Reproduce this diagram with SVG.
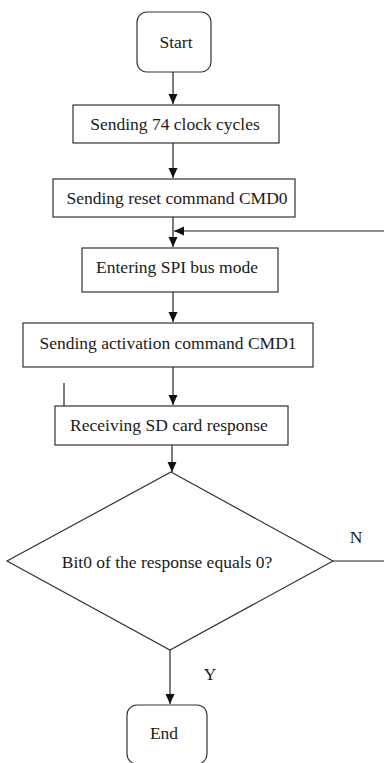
<svg xmlns="http://www.w3.org/2000/svg" width="384" height="763" viewBox="0 0 384 763">
  <style>
    .box { fill: #ffffff; stroke: #333333; stroke-width: 1.2; }
    .lbl { font-size: 17.5px; fill: #1a1a1a; text-anchor: middle; }
    .edge { fill: none; stroke: #222222; stroke-width: 1.2; }
  </style>
  <defs>
    <marker id="arrow" markerUnits="userSpaceOnUse" markerWidth="10" markerHeight="10" refX="10" refY="4.5" orient="auto">
      <path d="M0,0 L10,4.5 L0,9 z" fill="#111111"/>
    </marker>
  </defs>
  <rect width="384" height="763" fill="#ffffff"/>

  <g font-family="Liberation Serif, Times New Roman, DejaVu Serif, serif">
  <g id="connectors">
    <line class="edge" x1="173" y1="72" x2="173" y2="104" marker-end="url(#arrow)"/>
    <line class="edge" x1="173" y1="143" x2="173" y2="178" marker-end="url(#arrow)"/>
    <line class="edge" x1="173" y1="217" x2="173" y2="247" marker-end="url(#arrow)"/>
    <line class="edge" x1="384" y1="231" x2="174" y2="231" marker-end="url(#arrow)"/>
    <line class="edge" x1="173" y1="292" x2="173" y2="322" marker-end="url(#arrow)"/>
    <line class="edge" x1="173" y1="367" x2="173" y2="405" marker-end="url(#arrow)"/>
    <line class="edge" x1="64" y1="383" x2="64" y2="406"/>
    <line class="edge" x1="172" y1="445" x2="172" y2="472" marker-end="url(#arrow)"/>
    <line class="edge" x1="333" y1="561" x2="384" y2="561"/>
    <line class="edge" x1="170" y1="650" x2="170" y2="704" marker-end="url(#arrow)"/>
    <text class="lbl" x="356" y="543">N</text>
    <text class="lbl" x="210" y="680">Y</text>
  </g>

  <g id="start">
    <rect class="box" x="137" y="12" width="74" height="60" rx="10"/>
    <text class="lbl" x="176" y="48">Start</text>
  </g>

  <g id="clock-cycles">
    <rect class="box" x="73" y="105" width="206" height="38"/>
    <text class="lbl" x="175" y="130">Sending 74 clock cycles</text>
  </g>

  <g id="reset-cmd0">
    <rect class="box" x="53" y="179" width="242" height="38"/>
    <text class="lbl" x="177" y="204">Sending reset command CMD0</text>
  </g>

  <g id="spi-mode">
    <rect class="box" x="82" y="248" width="196" height="44"/>
    <text class="lbl" x="177" y="273">Entering SPI bus mode</text>
  </g>

  <g id="activation-cmd1">
    <rect class="box" x="23" y="323" width="290" height="44"/>
    <text class="lbl" x="168" y="349">Sending activation command CMD1</text>
  </g>

  <g id="sd-response">
    <rect class="box" x="55" y="406" width="233" height="39"/>
    <text class="lbl" x="169" y="431">Receiving SD card response</text>
  </g>

  <g id="bit0-check">
    <polygon class="box" points="171,472 333,561 170,650 7,561"/>
    <text class="lbl" x="167" y="568">Bit0 of the response equals 0?</text>
  </g>

  <g id="end">
    <rect class="box" x="127" y="705" width="80" height="59" rx="10"/>
    <text class="lbl" x="164" y="739">End</text>
  </g>
  </g>
</svg>
